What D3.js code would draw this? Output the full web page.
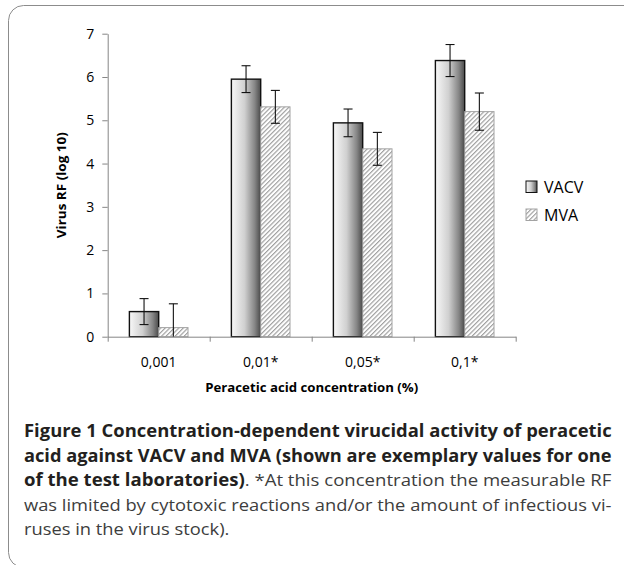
<!DOCTYPE html>
<html>
<head>
<meta charset="utf-8">
<script src="https://cdn.jsdelivr.net/npm/d3@7"></script>
<style>
  body { margin: 0; background: #fff; }
  text { font-family: "Open Sans", sans-serif; }
</style>
</head>
<body>
<script>
// Data
var categories = ["0,001", "0,01*", "0,05*", "0,1*"];
var series = ["VACV", "MVA"];
var vacvValues = [0.58, 5.95, 4.94, 6.38];
var vacvErrors = [0.30, 0.31, 0.32, 0.37];
var mvaValues = [0.21, 5.31, 4.34, 5.20];
var mvaErrors = [0.55, 0.38, 0.38, 0.43];
var yTicks = [0, 1, 2, 3, 4, 5, 6, 7];

var width = 624;
var height = 565;

// plot area
var plotLeft = 107.7, plotRight = 515.7, plotTop = 33.7, plotBottom = 336.7;

var svg = d3.select("body").append("svg")
  .attr("width", width)
  .attr("height", height);

var defs = svg.append("defs");

// gradient used for the VACV bars (light on the left, dark on the right)
var grad = defs.append("linearGradient")
  .attr("id", "vacvGrad")
  .attr("x1", "0").attr("x2", "1").attr("y1", "0").attr("y2", "0");
grad.append("stop").attr("offset", "0%").attr("stop-color", "#f8f8f8");
grad.append("stop").attr("offset", "45%").attr("stop-color", "#d0d0d0");
grad.append("stop").attr("offset", "80%").attr("stop-color", "#858585");
grad.append("stop").attr("offset", "100%").attr("stop-color", "#4a4a4a");

// hatch pattern for the MVA bars
var hatch = defs.append("pattern")
  .attr("id", "hatch")
  .attr("patternUnits", "userSpaceOnUse")
  .attr("width", 3.2).attr("height", 3.2)
  .attr("patternTransform", "rotate(45)");
hatch.append("rect").attr("width", 3.2).attr("height", 3.2).attr("fill", "#fff");
hatch.append("line")
  .attr("x1", 0.6).attr("y1", 0).attr("x2", 0.6).attr("y2", 3.2)
  .attr("stroke", "#9a9a9a").attr("stroke-width", 1.1);

// outer frame
svg.append("rect")
  .attr("x", 8.5).attr("y", 5.5)
  .attr("width", 640).attr("height", 562)
  .attr("rx", 15).attr("ry", 15)
  .attr("fill", "none")
  .attr("stroke", "#8c8c8c")
  .attr("stroke-width", 1);

// scales
var y = d3.scaleLinear().domain([0, 7]).range([plotBottom, plotTop]);
var x0 = d3.scaleBand().domain(categories).range([plotLeft, plotRight]).padding(0);
var x1 = d3.scaleBand().domain(series).range([0, x0.bandwidth()])
  .paddingInner(0).paddingOuter(0.74);
var xb = d3.scaleLinear().domain([0, categories.length]).range([plotLeft, plotRight]);

var rows = categories.map(function (c, i) {
  return [
    { cat: c, key: "VACV", value: vacvValues[i], err: vacvErrors[i] },
    { cat: c, key: "MVA", value: mvaValues[i], err: mvaErrors[i] }
  ];
});

// y axis
var yAxis = svg.append("g")
  .attr("transform", "translate(" + plotLeft + ",0)")
  .call(d3.axisLeft(y).tickValues(yTicks).tickFormat(d3.format("d"))
    .tickSize(5.4).tickSizeOuter(0).tickPadding(8));
yAxis.select(".domain").attr("stroke", "#868686");
yAxis.selectAll(".tick line").attr("stroke", "#868686");
yAxis.selectAll("text").attr("font-size", "14px").attr("fill", "#000")
  .attr("font-family", "'Open Sans', sans-serif");

// bars
var groups = svg.append("g").selectAll("g")
  .data(rows)
  .enter().append("g")
  .attr("transform", function (d) { return "translate(" + x0(d[0].cat) + ",0)"; });

groups.selectAll("rect")
  .data(function (d) { return d; })
  .enter().append("rect")
  .attr("x", function (d) { return x1(d.key); })
  .attr("y", function (d) { return y(d.value); })
  .attr("width", x1.bandwidth())
  .attr("height", function (d) { return y(0) - y(d.value); })
  .attr("fill", function (d) { return d.key == "VACV" ? "url(#vacvGrad)" : "url(#hatch)"; })
  .attr("stroke", function (d) { return d.key == "VACV" ? "#111" : "#a3a3a3"; })
  .attr("stroke-width", function (d) { return d.key == "VACV" ? 1.4 : 1; });

// error bars (clipped at the axis minimum like the original)
var errs = groups.selectAll("g.err")
  .data(function (d) { return d; })
  .enter().append("g")
  .attr("class", "err")
  .attr("transform", function (d) { return "translate(" + (x1(d.key) + x1.bandwidth() / 2) + ",0)"; });

errs.append("line")
  .attr("y1", function (d) { return y(d.value + d.err); })
  .attr("y2", function (d) { return y(Math.max(0, d.value - d.err)); })
  .attr("stroke", "#111").attr("stroke-width", 1.1);
errs.append("line")
  .attr("x1", -4.5).attr("x2", 4.5)
  .attr("y1", function (d) { return y(d.value + d.err); })
  .attr("y2", function (d) { return y(d.value + d.err); })
  .attr("stroke", "#111").attr("stroke-width", 1.1);
errs.filter(function (d) { return d.value - d.err >= 0; })
  .append("line")
  .attr("x1", -4.5).attr("x2", 4.5)
  .attr("y1", function (d) { return y(d.value - d.err); })
  .attr("y2", function (d) { return y(d.value - d.err); })
  .attr("stroke", "#111").attr("stroke-width", 1.1);

// x axis: ticks between the categories
var xAxis = svg.append("g")
  .attr("transform", "translate(0," + plotBottom + ")")
  .call(d3.axisBottom(xb).ticks(categories.length).tickSize(5).tickSizeOuter(0).tickFormat(""));
xAxis.select(".domain").attr("stroke", "#868686");
xAxis.selectAll(".tick line").attr("stroke", "#868686");

svg.append("g").selectAll("text")
  .data(categories)
  .enter().append("text")
  .attr("x", function (d) { return x0(d) + x0.bandwidth() / 2; })
  .attr("y", 367)
  .attr("text-anchor", "middle")
  .attr("font-size", "14px")
  .attr("fill", "#000")
  .text(function (d) { return d; });

// axis titles
svg.append("text")
  .attr("x", (plotLeft + plotRight) / 2)
  .attr("y", 392)
  .attr("text-anchor", "middle")
  .attr("font-size", "12.5px")
  .attr("font-weight", "bold")
  .attr("textLength", 213)
  .attr("lengthAdjust", "spacingAndGlyphs")
  .text("Peracetic acid concentration (%)");

svg.append("text")
  .attr("transform", "translate(65.5," + ((plotTop + plotBottom) / 2) + ") rotate(-90)")
  .attr("text-anchor", "middle")
  .attr("font-size", "12.5px")
  .attr("font-weight", "bold")
  .attr("textLength", 106)
  .attr("lengthAdjust", "spacingAndGlyphs")
  .text("Virus RF (log 10)");

// legend
var legend = svg.append("g").selectAll("g")
  .data(series)
  .enter().append("g")
  .attr("transform", function (d, i) { return "translate(526," + (181 + i * 28) + ")"; });
legend.append("rect")
  .attr("width", 11).attr("height", 11.5)
  .attr("fill", function (d) { return d == "VACV" ? "url(#vacvGrad)" : "url(#hatch)"; })
  .attr("stroke", function (d) { return d == "VACV" ? "#111" : "#a3a3a3"; })
  .attr("stroke-width", 1);
legend.append("text")
  .attr("x", 18).attr("y", 11.8)
  .attr("font-size", "16px")
  .attr("fill", "#000")
  .text(function (d) { return d; });

// caption, each line squeezed to the column width
var captionLines = [
  [["Figure 1 Concentration-dependent virucidal activity of peracetic", true]],
  [["acid against VACV and MVA (shown are exemplary values for one", true]],
  [["of the test laboratories)", true], [". *At this concentration the measurable RF", false]],
  [["was limited by cytotoxic reactions and/or the amount of infectious vi-", false]],
  [["ruses in the virus stock).", false]]
];
var captionTop = 437, lineGap = 24.6, colWidth = 588;
var lastK = 1;

captionLines.forEach(function (parts, i) {
  var t = svg.append("text")
    .attr("font-size", "17px")
    .attr("fill", "#231f20");
  parts.forEach(function (p) {
    t.append("tspan")
      .attr("font-weight", p[1] ? "bold" : "normal")
      .attr("fill", p[1] ? "#231f20" : "#3d3d3d")
      .text(p[0]);
  });
  var w = t.node().getComputedTextLength();
  var k = i < 4 ? colWidth / w : lastK;
  lastK = k;
  t.attr("transform", "translate(24," + (captionTop + i * lineGap) + ") scale(" + k + ",1)");
});
</script>
</body>
</html>
